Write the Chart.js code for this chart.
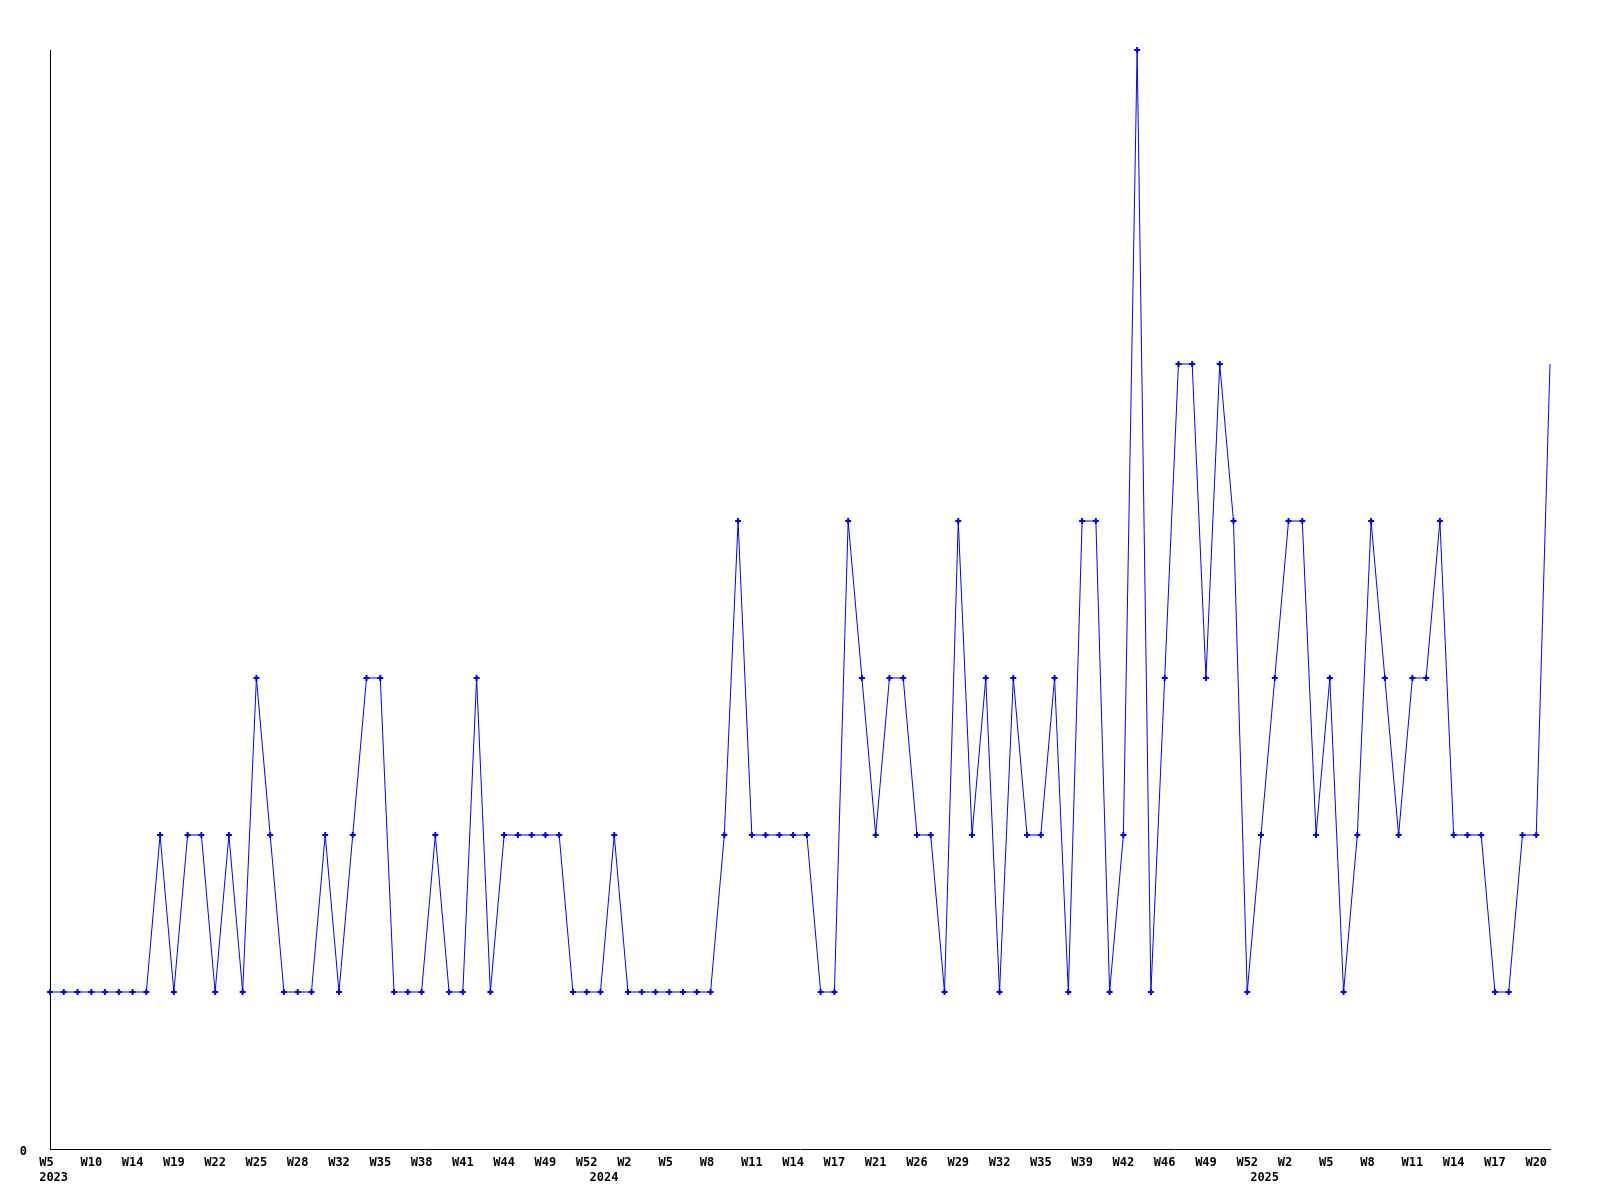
<!DOCTYPE html>
<html>
<head>
<meta charset="utf-8">
<script src="https://cdn.jsdelivr.net/npm/chart.js@4/dist/chart.umd.min.js"></script>
<style>
  html, body { margin: 0; padding: 0; background: #fff; }
  canvas { display: block; }
</style>
</head>
<body>
<canvas id="weekly" width="1600" height="1200"></canvas>
<script>
// weeks that have at least one entry (empty weeks are not in the data)
const categories = [
  '2023 W5','2023 W6','2023 W8','2023 W10','2023 W11','2023 W13','2023 W14','2023 W16','2023 W17','2023 W19',
  '2023 W20','2023 W21','2023 W22','2023 W23','2023 W24','2023 W25','2023 W26','2023 W27','2023 W28','2023 W29',
  '2023 W31','2023 W32','2023 W33','2023 W34','2023 W35','2023 W36','2023 W37','2023 W38','2023 W39','2023 W40',
  '2023 W41','2023 W42','2023 W43','2023 W44','2023 W45','2023 W47','2023 W49','2023 W50','2023 W51','2023 W52',
  '2024 W0','2024 W1','2024 W2','2024 W3','2024 W4','2024 W5','2024 W6','2024 W7','2024 W8','2024 W9',
  '2024 W10','2024 W11','2024 W12','2024 W13','2024 W14','2024 W15','2024 W16','2024 W17','2024 W18','2024 W20',
  '2024 W21','2024 W23','2024 W24','2024 W26','2024 W27','2024 W28','2024 W29','2024 W30','2024 W31','2024 W32',
  '2024 W33','2024 W34','2024 W35','2024 W36','2024 W38','2024 W39','2024 W40','2024 W41','2024 W42','2024 W43',
  '2024 W45','2024 W46','2024 W47','2024 W48','2024 W49','2024 W50','2024 W51','2024 W52','2025 W0','2025 W1',
  '2025 W2','2025 W3','2025 W4','2025 W5','2025 W6','2025 W7','2025 W8','2025 W9','2025 W10','2025 W11',
  '2025 W12','2025 W13','2025 W14','2025 W15','2025 W16','2025 W17','2025 W18','2025 W19','2025 W20','2025 W21'
];

const counts = [
  1,1,1,1,1,1,1,1,2,1,
  2,2,1,2,1,3,2,1,1,1,
  2,1,2,3,3,1,1,1,2,1,
  1,3,1,2,2,2,2,2,1,1,
  1,2,1,1,1,1,1,1,1,2,
  4,2,2,2,2,2,1,1,4,3,
  2,3,3,2,2,1,4,2,3,1,
  3,2,2,3,1,4,4,1,2,7,
  1,3,5,5,3,5,4,1,2,3,
  4,4,2,3,1,2,4,3,2,3,
  3,4,2,2,2,1,1,2,2,5
];

const yTicks = [0];
const labelEvery = 3;

function tickText(i) {
  const [year, week] = categories[i].split(' ');
  const prevYear = i > 0 ? categories[i - 1].split(' ')[0] : null;
  const w = i % labelEvery === 0 ? week.padEnd(3, ' ') : '';
  const y = year !== prevYear ? ' ' + year : '';
  if (y) return [w, y];
  return w;
}

Chart.defaults.font.family = '"DejaVu Sans Mono", monospace';
Chart.defaults.font.size = 12;
Chart.defaults.font.weight = 'bold';
Chart.defaults.color = '#000';

new Chart(document.getElementById('weekly'), {
  type: 'line',
  data: {
    labels: categories,
    datasets: [{
      data: counts,
      borderColor: '#0000ff',
      backgroundColor: '#0000ff',
      borderWidth: 1,
      tension: 0,
      fill: false,
      pointStyle: 'cross',
      pointRadius: counts.map((v, i) => i === counts.length - 1 ? 0 : 3),
      pointBorderWidth: 2,
      pointBorderColor: '#0000ff',
      clip: false
    }]
  },
  options: {
    responsive: false,
    animation: false,
    layout: { padding: { top: 50, right: 50, left: 0, bottom: 0 } },
    plugins: { legend: { display: false }, tooltip: { enabled: false } },
    scales: {
      x: {
        type: 'category',
        offset: false,
        grid: { display: false, drawTicks: false },
        border: { display: true, color: '#000', width: 1 },
        ticks: {
          autoSkip: false,
          maxRotation: 0,
          minRotation: 0,
          padding: 6,
          font: { lineHeight: 1.25 },
          callback: (v, i) => tickText(i)
        },
        afterFit: s => { s.height = 51; }
      },
      y: {
        min: 0,
        max: 7,
        grid: { display: false, drawTicks: false },
        border: { display: true, color: '#000', width: 1 },
        ticks: {
          stepSize: 1,
          padding: 23,
          font: { lineHeight: '5px' },
          // empty first line nudges the "0" a little below the axis line, as in the original
          callback: v => yTicks.includes(v) ? ['', String(v)] : ''
        },
        afterFit: s => { s.width = 50; }
      }
    }
  }
});
</script>
</body>
</html>
